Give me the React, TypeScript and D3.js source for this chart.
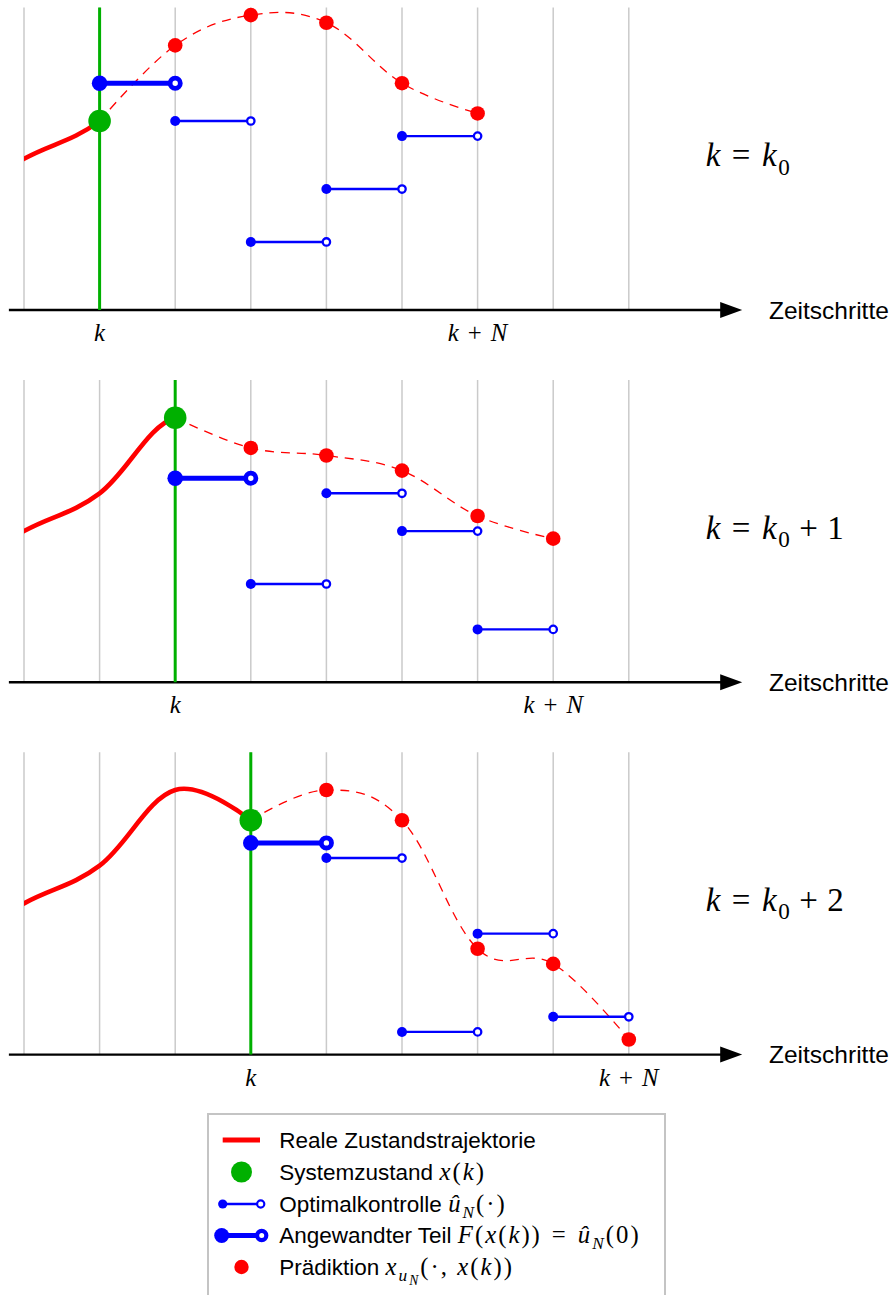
import React from "react";
import * as d3 from "d3";

// ---------- data ----------
const STEPS = [0, 1, 2, 3, 4, 5, 6, 7, 8];
const HORIZON = 5;
const PANEL_K = [1, 2, 3];
const PANEL_K_OFFSET = ["", "1", "2"];
// real trajectory: one state before the visible window (clipped), then steps 0..3
const REAL_STEPS = [-1, 0, 1, 2, 3];
const REAL_STATES = [1.4, 2.0, 2.5, 3.5, 3.1];
const PREDICTION_0 = [3.5, 3.9, 3.8, 3.0, 2.6];
const PREDICTION_1 = [3.1, 3.0, 2.8, 2.2, 1.9];
const PREDICTION_2 = [3.5, 3.1, 1.4, 1.2, 0.2];
const CONTROL_0 = [3.0, 2.5, 0.9, 1.6, 2.3];
const CONTROL_1 = [2.7, 1.3, 2.5, 2.0, 0.7];
const CONTROL_2 = [2.8, 2.6, 0.3, 1.6, 0.5];
const PREDICTIONS = [PREDICTION_0, PREDICTION_1, PREDICTION_2];
const CONTROLS = [CONTROL_0, CONTROL_1, CONTROL_2];
const AXIS_LABEL = "Zeitschritte";
const LEGEND_TEXTS = [
  "Reale Zustandstrajektorie",
  "Systemzustand ",
  "Optimalkontrolle ",
  "Angewandter Teil ",
  "Prädiktion ",
];

// ---------- style ----------
const W = 894;
const H = 1295;
const RED = "#ff0000";
const GREEN = "#00b000";
const BLUE = "#0000ff";
const GRID = "#cacaca";
const SANS = "'Liberation Sans', Arial, sans-serif";
const SERIF = "'Liberation Serif', 'Times New Roman', serif";

type Part = { s: string; it?: boolean; sans?: boolean; lvl?: number; dx?: number };

function MathText({
  x,
  y,
  size,
  parts,
  anchor = "start",
  ls = 0,
}: {
  x: number;
  y: number;
  size: number;
  parts: Part[];
  anchor?: string;
  ls?: number;
}) {
  const off = [0, 0.28 * size, 0.45 * size];
  const sc = [1, 0.7, 0.55];
  let prev = 0;
  return (
    <text x={x} y={y} textAnchor={anchor} fill="#000">
      {parts.map((p, i) => {
        const lvl = p.lvl || 0;
        const dy = off[lvl] - off[prev];
        prev = lvl;
        return (
          <tspan
            key={i}
            dy={dy}
            dx={p.dx || 0}
            fontFamily={p.sans ? SANS : SERIF}
            fontStyle={p.it ? "italic" : "normal"}
            fontSize={p.sans ? size : size * 1.1 * sc[lvl]}
            letterSpacing={p.sans ? 0 : ls}
            style={{ whiteSpace: "pre" }}
          >
            {p.s}
          </tspan>
        );
      })}
    </text>
  );
}

const x = d3.scaleLinear().domain([0, 8]).range([24, 628.8]);
const curve = d3.curveCardinal.tension(-0.1);

function Panel({ p }: { p: number }) {
  const axisY = 310 + 372.3 * p;
  const y = d3.scaleLinear().domain([0, 4]).range([axisY, axisY - 302.4]);
  const k = PANEL_K[p];
  const stateAt = REAL_STATES[REAL_STEPS.indexOf(k)];
  const line = d3
    .line<[number, number]>()
    .x((d) => x(d[0]))
    .y((d) => y(d[1]))
    .curve(curve);
  const real: [number, number][] = REAL_STATES.map((v, i) => [REAL_STEPS[i], v]);
  const pred: [number, number][] = [
    [k, stateAt],
    ...PREDICTIONS[p].map((v, j) => [k + 1 + j, v] as [number, number]),
  ];
  const ctrl = CONTROLS[p];
  const tipX = x(9.5);
  const clipId = `clip-real-${p}`;
  return (
    <g>
      <defs>
        <clipPath id={clipId}>
          <rect x={x(0)} y={y(4.2)} width={x(k) - x(0)} height={y(0) - y(4.2)} />
        </clipPath>
      </defs>
      {STEPS.map((s) => (
        <line key={s} x1={x(s)} x2={x(s)} y1={y(4)} y2={y(0)} stroke={GRID} strokeWidth={1.5} />
      ))}
      <line x1={x(-0.2)} x2={tipX - 18} y1={y(0)} y2={y(0)} stroke="#000" strokeWidth={2.4} />
      <path d={`M${tipX},${y(0)} L${tipX - 22},${y(0) - 8} L${tipX - 22},${y(0) + 8} Z`} fill="#000" />
      <text x={769} y={y(0) + 8.5} fontFamily={SANS} fontSize={24.5} fill="#000">
        {AXIS_LABEL}
      </text>
      <line x1={x(k)} x2={x(k)} y1={y(4)} y2={y(0)} stroke={GREEN} strokeWidth={3} />
      <path d={line(real) || ""} fill="none" stroke={RED} strokeWidth={4.6} clipPath={`url(#${clipId})`} />
      <path d={line(pred) || ""} fill="none" stroke={RED} strokeWidth={1.3} strokeDasharray="9 7" />
      {ctrl.map((v, j) => {
        const thick = j === 0;
        const x0 = x(k + j);
        const x1 = x(k + j + 1);
        return (
          <g key={j}>
            <line x1={x0} x2={x1} y1={y(v)} y2={y(v)} stroke={BLUE} strokeWidth={thick ? 5 : 2.4} />
            <circle cx={x0} cy={y(v)} r={thick ? 7.8 : 5} fill={BLUE} />
            <circle
              cx={x1}
              cy={y(v)}
              r={thick ? 5.1 : 3.7}
              fill="#fff"
              stroke={BLUE}
              strokeWidth={thick ? 4.8 : 2.3}
            />
          </g>
        );
      })}
      {PREDICTIONS[p].map((v, j) => (
        <circle key={j} cx={x(k + 1 + j)} cy={y(v)} r={7.3} fill={RED} />
      ))}
      <circle cx={x(k)} cy={y(stateAt)} r={11.3} fill={GREEN} />
      <MathText x={x(k)} y={y(0) + 31} size={22.5} anchor="middle" parts={[{ s: "k", it: true }]} />
      <MathText
        x={x(k + HORIZON)}
        y={y(0) + 31}
        size={22.5}
        anchor="middle"
        parts={[{ s: "k", it: true }, { s: "+", dx: 9 }, { s: "N", it: true, dx: 9 }]}
      />
      <MathText
        x={705.7}
        y={y(1.9)}
        size={30}
        ls={0.5}
        parts={[
          { s: "k", it: true },
          { s: "=", dx: 11 },
          { s: "k", it: true, dx: 11 },
          { s: "0", lvl: 1, dx: 1 },
          ...(PANEL_K_OFFSET[p] ? [{ s: "+", dx: 9, lvl: 0 }, { s: PANEL_K_OFFSET[p], dx: 9 }] : []),
        ]}
      />
    </g>
  );
}

function Legend() {
  const rows = [1140, 1172, 1204, 1235.5, 1267];
  const tx = 279.3;
  const fs = 22.5;
  const S = (s: string): Part => ({ s, sans: true });
  const parts: Part[][] = [
    [S(LEGEND_TEXTS[0])],
    [S(LEGEND_TEXTS[1]), { s: "x", it: true }, { s: "(" }, { s: "k", it: true }, { s: ")" }],
    [S(LEGEND_TEXTS[2]), { s: "û", it: true }, { s: "N", it: true, lvl: 1 }, { s: "(·)", lvl: 0 }],
    [
      S(LEGEND_TEXTS[3]),
      { s: "F", it: true },
      { s: "(" },
      { s: "x", it: true },
      { s: "(" },
      { s: "k", it: true },
      { s: "))" },
      { s: "=", dx: 10 },
      { s: "û", it: true, dx: 10 },
      { s: "N", it: true, lvl: 1 },
      { s: "(0)", lvl: 0 },
    ],
    [
      S(LEGEND_TEXTS[4]),
      { s: "x", it: true },
      { s: "u", it: true, lvl: 1 },
      { s: "N", it: true, lvl: 2 },
      { s: "(·, ", lvl: 0 },
      { s: "x", it: true },
      { s: "(" },
      { s: "k", it: true },
      { s: "))" },
    ],
  ];
  return (
    <g>
      <rect x={208} y={1114} width={457} height={220} fill="#fff" stroke="#c4c4c4" strokeWidth={2} />
      <line x1={222.7} x2={260} y1={rows[0]} y2={rows[0]} stroke={RED} strokeWidth={5} />
      <circle cx={241.5} cy={rows[1]} r={10.5} fill={GREEN} />
      <line x1={222.7} x2={260.7} y1={rows[2]} y2={rows[2]} stroke={BLUE} strokeWidth={2.4} />
      <circle cx={222.7} cy={rows[2]} r={4.6} fill={BLUE} />
      <circle cx={260.7} cy={rows[2]} r={3.6} fill="#fff" stroke={BLUE} strokeWidth={2.2} />
      <line x1={221.7} x2={261.7} y1={rows[3]} y2={rows[3]} stroke={BLUE} strokeWidth={5} />
      <circle cx={221.7} cy={rows[3]} r={7.5} fill={BLUE} />
      <circle cx={261.7} cy={rows[3]} r={4.6} fill="#fff" stroke={BLUE} strokeWidth={4.2} />
      <circle cx={241.5} cy={rows[4]} r={7.2} fill={RED} />
      {parts.map((ps, i) => (
        <MathText key={i} x={tx} y={rows[i] + 7.5} size={fs} parts={ps} ls={2} />
      ))}
    </g>
  );
}

export default function App() {
  return (
    <svg
      width={W}
      height={H}
      viewBox={`0 0 ${W} ${H}`}
      style={{ position: "absolute", left: 0, top: 0, background: "#fff" }}
    >
      {PANEL_K.map((_, p) => (
        <Panel key={p} p={p} />
      ))}
      <Legend />
    </svg>
  );
}
